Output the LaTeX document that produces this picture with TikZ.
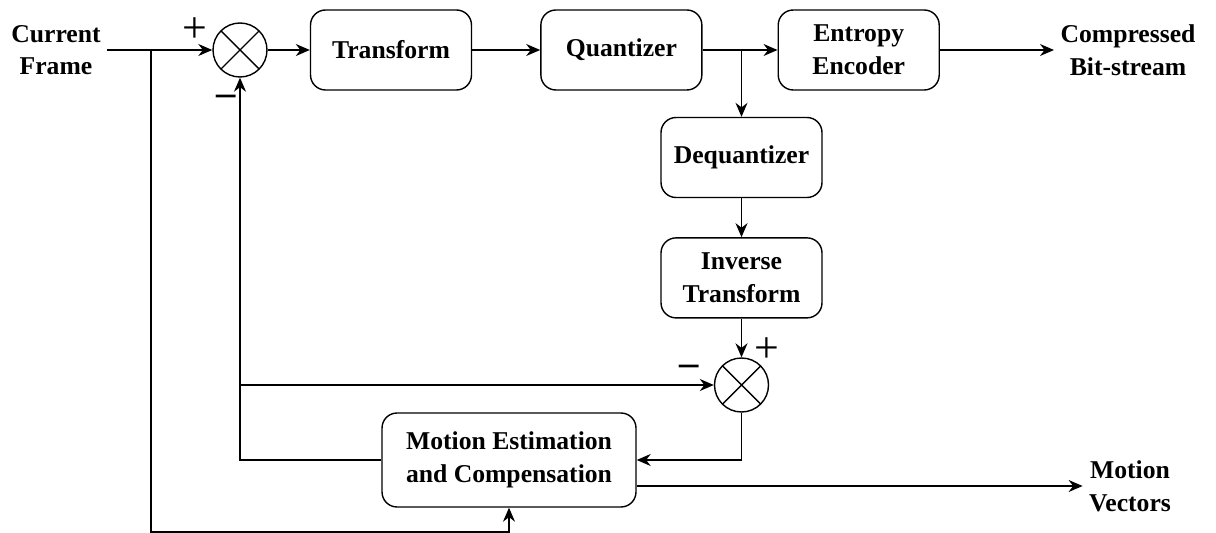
\documentclass[tikz,border=0pt]{standalone}
\usepackage{fontspec}
\setmainfont{Liberation Serif}
\usetikzlibrary{positioning,arrows.meta}

\begin{document}
\begin{tikzpicture}[x=0.02cm,y=-0.02cm,thick,
  font=\fontsize{14.6}{18.6}\selectfont\bfseries,
  block/.style={draw,rounded corners=0.3cm,align=center,minimum width=3.22cm,minimum height=1.6cm,inner sep=0pt},
  sum/.style={draw,circle,minimum size=1.08cm,inner sep=0pt,
    path picture={\draw (path picture bounding box.north west) -- (path picture bounding box.south east)
      (path picture bounding box.north east) -- (path picture bounding box.south west);}},
  plus/.style={font=\fontsize{25}{25}\selectfont,inner sep=0pt},
  minus/.style={font=\fontsize{22}{22}\selectfont\bfseries,inner sep=0pt},
  txt/.style={align=center},
  >={Stealth[length=2.8mm,width=2.4mm]}]
 \useasboundingbox (0,0) rectangle (1216,533);
 \node[txt] (cur) at (56,50) {Current\\Frame};
 \node[sum] (sum1) at (240,50) {};
 \node[block] (trans) at (391,50) {Transform};
 \node[block,right=1.36cm of trans] (quant) {Quantizer};
 \node[block,right=1.5cm of quant] (ent) {Entropy\\Encoder};
 \node[txt] (out) at (1128,50) {Compressed\\Bit-stream};
 \node[block] (deq) at (741.5,157.5) {Dequantizer};
 \node[block,below=0.78cm of deq] (inv) {Inverse\\Transform};
 \node[sum] (sum2) at (741.5,385) {};
 \node[block,minimum width=5.08cm,minimum height=1.88cm] (me) at (509,460) {Motion Estimation\\and Compensation};
 \node[txt] (mv) at (1130,486) {Motion\\Vectors};
 \node[plus] (p1) at (195,30) {+};
 \node[minus] (m1) at (226,100) {–};
 \node[plus] (p2) at (767,350) {+};
 \node[minus] (m2) at (689,370) {–};
 \coordinate (b1) at (151,50);
 \coordinate (b2) at (deq.north |- quant.east);
 \coordinate (b3) at (240,385);
 \coordinate (b4) at (151,532);
 \draw[->] (cur.east) -- (sum1.west);
 \draw[->] (sum1.east) -- (trans.west);
 \draw[->] (trans.east) -- (quant.west);
 \draw[->] (quant.east) -- (ent.west);
 \draw[->] (ent.east) -- (out.west);
 \draw[->] (b2) -- (deq.north);
 \draw[->] (deq.south) -- (inv.north);
 \draw[->] (inv.south) -- (sum2.north);
 \draw[->] (sum2.south) |- (me.east);
 \draw[->] (me.west) -| (sum1.south);
 \draw[->] (b3) -- (sum2.west);
 \draw[->] (b1) -- (b4) -| (me.south);
 \draw[->] (me.east |- mv.west) -- (mv.west);
\end{tikzpicture}
\end{document}
